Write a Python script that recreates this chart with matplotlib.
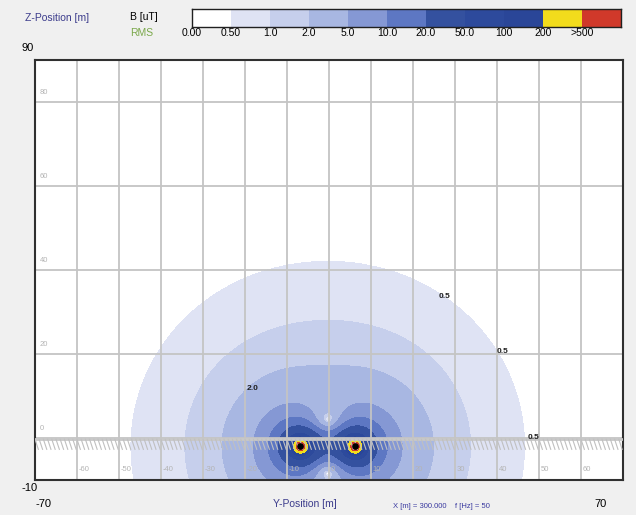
import numpy as np
import matplotlib
matplotlib.use("Agg")
import matplotlib.pyplot as plt

plt.rcParams['font.family'] = ['Liberation Sans', 'DejaVu Sans']

# B field bands (uT), as in the legend bar
levels = [0.0, 0.5, 1.0, 2.0, 5.0, 10.0, 20.0, 50.0, 100.0, 200.0, 500.0]
level_labels = ["0.00", "0.50", "1.0", "2.0", "5.0", "10.0", "20.0", "50.0", "100", "200", ">500"]
band_colors = ["#ffffff", "#dfe3f4", "#c6cfec", "#a8b7e2", "#8598d4", "#5d77c3",
               "#34519f", "#2d4a9c", "#2a4698", "#f2dc1c", "#d0392a"]

# cable groups (y, z in m), and group strength in uT*m^2
cable_y = [-6.8, 6.2]
cable_z = [-2.0, -2.0]
cable_k = 518.0

# contour labels printed on the map
clabel_text = ["0.5", "0.5", "0.5", "2.0"]
clabel_y = [27.6, 41.4, 48.6, -18.1]
clabel_z = [33.6, 20.5, 0.2, 11.9]

grid_y = [-60, -50, -40, -30, -20, -10, 0, 10, 20, 30, 40, 50, 60]
grid_z = [0, 20, 40, 60, 80]

W, H = 636, 515
fig = plt.figure(figsize=(W / 100, H / 100), dpi=100)
fig.patch.set_facecolor('#f0f0f0')

def px(x, y):
	return x / W, 1 - y / H

ax = fig.add_axes([35 / W, (H - 480) / H, 588 / W, 420 / H])
ax.set_facecolor('white')

# field of the two cable groups on a grid
yy, zz = np.meshgrid(np.linspace(-70, 70, 1401), np.linspace(-10, 90, 1001))
w = yy + 1j * zz
g = np.zeros_like(w)
with np.errstate(divide='ignore', invalid='ignore'):
	for cy, cz in zip(cable_y, cable_z):
		g = g + 1.0 / (w - (cy + 1j * cz)) ** 2
B = cable_k * np.abs(g)
B = np.nan_to_num(B, nan=1e9, posinf=1e9)

ax.contourf(yy, zz, B, levels=levels + [1e12], colors=band_colors, zorder=1)

# grid
for gy in grid_y:
	ax.axvline(gy, color='#c4c4c4', lw=1.3, zorder=2)
for gz in grid_z:
	ax.axhline(gz, color='#c4c4c4', lw=1.3, zorder=2)

# ground line with hatch
ax.axhline(-0.3, color='#c8c8c8', lw=2, zorder=3)
for hy in np.arange(-70, 70, 1.0):
	ax.plot([hy, hy + 0.8], [-0.3, -2.7], color='#c0c0c0', lw=0.8, zorder=3)

# cables
ax.scatter(cable_y, cable_z, s=14, color='black', zorder=4)

# inner scale labels
for gy in grid_y:
	ax.text(gy + 0.4, -7.4, str(gy), fontsize=5.5, color='#b4b4b4', ha='left', va='center', zorder=3)
for gz in grid_z:
	ax.text(-68.8, gz + 2.2, str(gz), fontsize=5.5, color='#b4b4b4', ha='left', va='center', zorder=3)

for t, ly, lz in zip(clabel_text, clabel_y, clabel_z):
	ax.text(ly, lz, t, fontsize=6, color='#202020', ha='center', va='center', fontweight='bold', zorder=5)

ax.set_xlim(-70, 70)
ax.set_ylim(-10, 90)
ax.set_xticks([])
ax.set_yticks([])
for s in ax.spines.values():
	s.set_color('#303030')
	s.set_linewidth(1.5)

# legend bar
cax = fig.add_axes([192 / W, (H - 27) / H, 429 / W, 18 / H])
cax.bar(range(len(band_colors)), [1] * len(band_colors), width=1, align='edge', color=band_colors)
cax.set_xlim(0, len(band_colors))
cax.set_ylim(0, 1)
cax.set_xticks([])
cax.set_yticks([])
for s in cax.spines.values():
	s.set_color('#202020')
	s.set_linewidth(1)
for i, lbl in enumerate(level_labels):
	fig.text(*px(192 + i * 39, 33), lbl, fontsize=7.5, ha='center', va='center')

blue = '#3c3c8c'
fig.text(*px(25, 18), "Z-Position [m]", fontsize=7.5, color=blue, va='center')
fig.text(*px(130, 17), "B [uT]", fontsize=7.5, color='black', va='center')
fig.text(*px(130, 33), "RMS", fontsize=7.5, color='#7aa84a', va='center')
fig.text(*px(22, 48), "90", fontsize=8, va='center')
fig.text(*px(21, 488), "-10", fontsize=8, va='center')
fig.text(*px(35, 504), "-70", fontsize=8, va='center')
fig.text(*px(594, 504), "70", fontsize=8, va='center')
fig.text(*px(273, 504), "Y-Position [m]", fontsize=7.5, color=blue, va='center')
fig.text(*px(393, 507), "X [m] = 300.000    f [Hz] = 50", fontsize=5.5, color='#3a3aa0', va='center')

fig.savefig("out.png", dpi=100, facecolor=fig.get_facecolor())
